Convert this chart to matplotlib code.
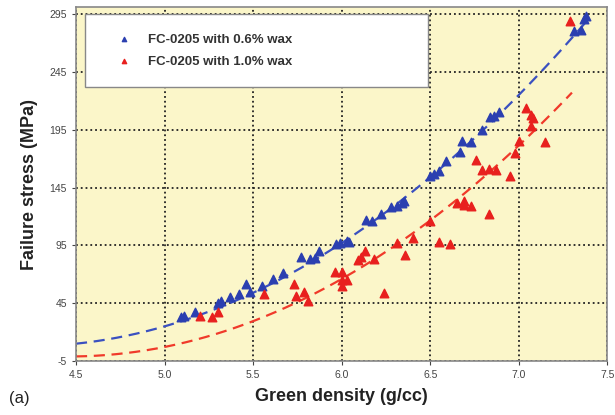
import numpy as np
import matplotlib.pyplot as plt

plt.rcParams['font.family'] = ['Liberation Sans', 'DejaVu Sans']
plt.rcParams['axes.unicode_minus'] = False

# FC-0205 with 0.6% wax
blue_x = [5.09, 5.11, 5.17, 5.30, 5.32, 5.37, 5.42, 5.46, 5.48, 5.55, 5.61, 5.67,
          5.77, 5.82, 5.85, 5.87, 5.97, 5.99, 6.03, 6.04, 6.14, 6.17, 6.22, 6.28,
          6.31, 6.34, 6.35, 6.50, 6.52, 6.55, 6.59, 6.67, 6.68, 6.73, 6.79, 6.84,
          6.86, 6.89, 7.31, 7.35, 7.37, 7.38]
blue_y = [33, 34, 37, 45, 47, 50, 53, 62, 55, 60, 66, 71,
          85, 83, 84, 90, 96, 97, 99, 98, 117, 116, 122, 128,
          129, 132, 133, 155, 157, 159, 168, 176, 185, 184, 195, 206,
          207, 210, 280, 281, 291, 293]

# FC-0205 with 1.0% wax
red_x = [5.20, 5.27, 5.30, 5.56, 5.73, 5.74, 5.79, 5.81, 5.96, 6.00, 6.00, 6.03,
         6.00, 6.09, 6.11, 6.13, 6.18, 6.24, 6.31, 6.36, 6.40, 6.50, 6.55, 6.61,
         6.65, 6.69, 6.69, 6.73, 6.83, 6.76, 6.79, 6.83, 6.87, 6.95, 6.98, 7.00,
         7.15, 7.04, 7.07, 7.08, 7.07, 7.29]
red_y = [34, 33, 37, 53, 62, 51, 55, 47, 72, 72, 65, 65,
         60, 82, 85, 90, 83, 54, 97, 87, 101, 116, 98, 96,
         132, 133, 130, 129, 122, 169, 160, 161, 160, 155, 175, 185,
         184, 214, 208, 205, 198, 289]

# quadratic trend lines in t = x - 4.5: a + b*t + c*t^2
blue_fit = [10.0, 16.0, 28.0]
red_fit = [-1.0, 2.2, 28.3]
blue_range = [4.5, 7.38]
red_range = [4.5, 7.30]

xticks = [4.5, 5.0, 5.5, 6.0, 6.5, 7.0, 7.5]
yticks = [-5, 45, 95, 145, 195, 245, 295]

fig = plt.figure(figsize=(6.15, 4.15), dpi=100)
ax = fig.add_axes([0.1236, 0.13, 0.864, 0.853])
ax.set_facecolor('#fbf6c9')

ax.scatter(blue_x, blue_y, marker='^', s=38, color='#2b3fb0', zorder=3)
ax.scatter(red_x, red_y, marker='^', s=38, color='#e8201e', zorder=3)

for fit, rng, col in [(blue_fit, blue_range, '#3a50c0'), (red_fit, red_range, '#f03a2a')]:
    xs = np.linspace(rng[0], rng[1], 200)
    t = xs - 4.5
    ax.plot(xs, fit[0] + fit[1] * t + fit[2] * t ** 2, '--', color=col, lw=1.6,
            dashes=(5, 3), zorder=2)

ax.set_xlim(4.5, 7.5)
ax.set_ylim(-5, 301)
ax.set_xticks(xticks)
ax.set_xticklabels([f'{v:.1f}' for v in xticks])
ax.set_yticks(yticks)
ax.grid(True, color='#222222', linestyle=':', linewidth=1.3)
ax.tick_params(labelsize=7.5, colors='#444444', length=3, width=0.8)
for sp in ax.spines.values():
    sp.set_color('#888888')
    sp.set_linewidth(1.2)

ax.set_xlabel('Green density (g/cc)', fontsize=13, fontweight='bold', color='#222222', labelpad=6)
ax.set_ylabel('Failure stress (MPa)', fontsize=13, fontweight='bold', color='#222222', labelpad=8)
fig.text(0.015, 0.03, '(a)', fontsize=12, color='#222222')

# legend box
leg = ax.legend(['FC-0205 with 0.6% wax', 'FC-0205 with 1.0% wax'],
                loc='upper left', bbox_to_anchor=(0.017, 0.765, 0.645, 0.215),
                mode='expand', fontsize=9.5, frameon=True, fancybox=False,
                handletextpad=0.3, borderpad=1.45, labelspacing=0.75,
                markerscale=0.5, borderaxespad=0, handlelength=3.0)
leg.get_frame().set_edgecolor('#888888')
leg.get_frame().set_linewidth(1.0)
leg.get_frame().set_alpha(1)
for txt in leg.get_texts():
    txt.set_fontweight('bold')
    txt.set_color('#333333')

fig.savefig('out.png', dpi=100)
